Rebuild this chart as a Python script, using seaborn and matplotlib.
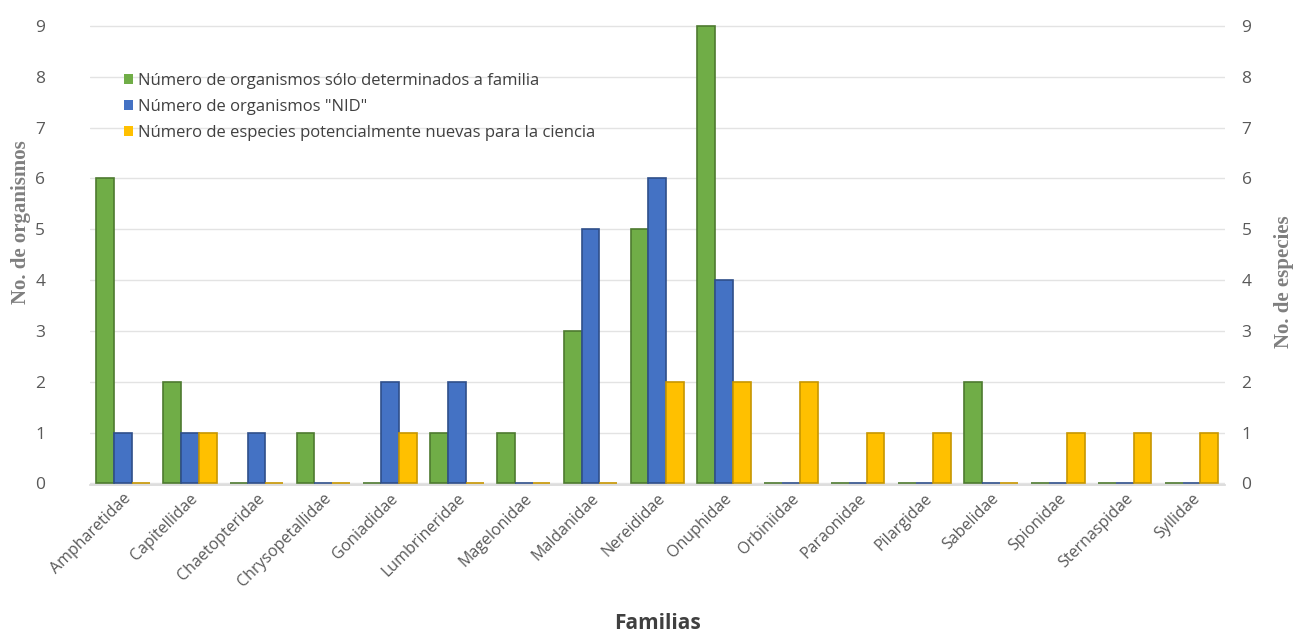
import matplotlib
matplotlib.use("Agg")
import matplotlib.pyplot as plt
import seaborn as sns
import pandas as pd
from matplotlib.patches import Patch

familias = ["Ampharetidae", "Capitellidae", "Chaetopteridae", "Chrysopetallidae",
            "Goniadidae", "Lumbrineridae", "Magelonidae", "Maldanidae", "Nereididae",
            "Onuphidae", "Orbiniidae", "Paraonidae", "Pilargidae", "Sabelidae",
            "Spionidae", "Sternaspidae", "Syllidae"]
solo_familia = [6, 2, 0, 1, 0, 1, 1, 3, 5, 9, 0, 0, 0, 2, 0, 0, 0]
nid = [1, 1, 1, 0, 2, 2, 0, 5, 6, 4, 0, 0, 0, 0, 0, 0, 0]
nuevas = [0, 1, 0, 0, 1, 0, 0, 0, 2, 2, 2, 1, 1, 0, 1, 1, 1]
series_names = ["Número de organismos sólo determinados a familia",
                "Número de organismos \"NID\"",
                "Número de especies potencialmente nuevas para la ciencia"]
colors = ["#70AD47", "#4472C4", "#FFC000"]
edge_colors = ["#4E7A30", "#2F4F8A", "#C79600"]

rows = []
for vals, name in zip([solo_familia, nid, nuevas], series_names):
    for f, v in zip(familias, vals):
        rows.append({"Familia": f, "Serie": name, "Valor": v})
df = pd.DataFrame(rows)

sns.set_theme(style="white")
plt.rcParams['font.family'] = ['Open Sans', 'DejaVu Sans']

fig = plt.figure(figsize=(12.99, 6.34), dpi=100)
ax = fig.add_axes([0.069, 0.235, 0.874, 0.728])

sns.barplot(data=df, x="Familia", y="Valor", hue="Serie", order=familias,
            hue_order=series_names, palette=colors, width=0.8, ax=ax,
            legend=False, saturation=1)

n = len(familias)
for i, patch in enumerate(ax.patches[:3 * n]):
    s = i // n
    patch.set_edgecolor(edge_colors[s])
    patch.set_linewidth(1.2)

ax.set_ylim(-0.03, 9.05)
ax.set_xlim(-0.5, n - 0.5)
ax.set_yticks(range(0, 10))
ax.yaxis.grid(True, color="#E3E3E3", linewidth=1)
ax.set_axisbelow(True)
for sp in ax.spines.values():
    sp.set_visible(False)
ax.spines["bottom"].set_visible(True)
ax.spines["bottom"].set_color("#D9D9D9")

ax.tick_params(axis="y", labelsize=12.5, labelcolor="#595959", length=0, pad=32)
ax.tick_params(axis="x", labelsize=11.5, labelcolor="#595959", length=0, pad=4)
plt.setp(ax.get_xticklabels(), rotation=45, ha="right", rotation_mode="anchor")

ax.set_xlabel("Familias", fontsize=15, fontweight="bold", color="#404040", labelpad=16)
ax.set_ylabel("No. de organismos", fontsize=15, fontweight="bold", color="#7F7F7F",
              family="Liberation Serif", labelpad=6)
ax.yaxis.set_label_coords(-0.052, 0.57)

ax2 = ax.twinx()
ax2.set_ylim(ax.get_ylim())
ax2.set_yticks(range(0, 10))
for sp in ax2.spines.values():
    sp.set_visible(False)
ax2.tick_params(axis="y", labelsize=12.5, labelcolor="#595959", length=0, pad=12)
ax2.set_ylabel("No. de especies", fontsize=15, fontweight="bold", color="#7F7F7F",
               family="Liberation Serif", labelpad=8)
ax2.yaxis.set_label_coords(1.043, 0.44)

handles = [Patch(facecolor=c, edgecolor="none") for c in colors]
leg = ax.legend(handles, series_names, loc="upper left", bbox_to_anchor=(0.017, 0.925),
                frameon=False, fontsize=12, handlelength=0.55, handleheight=0.55,
                handletextpad=0.3, labelspacing=0.6)
for t in leg.get_texts():
    t.set_color("#404040")

fig.savefig("out.png", dpi=100)
